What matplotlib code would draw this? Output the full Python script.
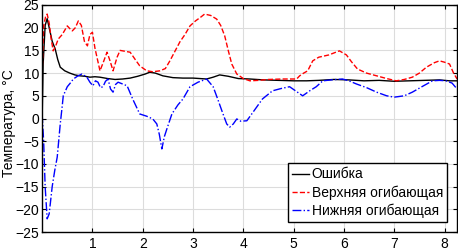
import numpy as np
import matplotlib.pyplot as plt

plt.rcParams['font.family'] = ['Liberation Sans', 'DejaVu Sans']

# values
t_err = [0.0, 0.02, 0.06, 0.1, 0.15, 0.2, 0.26, 0.31, 0.36, 0.45, 0.55, 0.65, 0.75, 0.85,
         0.95, 1.05, 1.15, 1.3, 1.45, 1.6, 1.75, 1.9, 2.05, 2.14, 2.25, 2.4, 2.6, 2.8,
         3.0, 3.27, 3.4, 3.53, 3.7, 3.9, 4.13, 4.4, 4.7, 5.0, 5.26, 5.5, 5.8, 6.1, 6.4,
         6.7, 7.0, 7.3, 7.6, 7.9, 8.1, 8.25]
err = [0.0, 12.0, 20.5, 22.0, 19.5, 17.0, 15.3, 13.0, 11.3, 10.5, 10.0, 9.6, 9.4, 9.3,
       9.1, 9.2, 9.1, 8.8, 8.6, 8.7, 8.9, 9.3, 9.8, 10.2, 10.0, 9.4, 9.0, 8.9,
       8.9, 8.7, 9.1, 9.6, 9.3, 8.8, 8.7, 8.5, 8.4, 8.3, 8.3, 8.4, 8.6, 8.5, 8.3,
       8.4, 8.2, 8.3, 8.4, 8.5, 8.3, 8.3]

t_up = [0.0, 0.03, 0.07, 0.1, 0.14, 0.18, 0.22, 0.27, 0.32, 0.4, 0.5, 0.55, 0.6, 0.66,
        0.72, 0.78, 0.84, 0.9, 0.95, 1.0, 1.05, 1.1, 1.15, 1.22, 1.29, 1.35, 1.41, 1.45,
        1.49, 1.55, 1.65, 1.75, 1.85, 1.94, 2.08, 2.2, 2.34, 2.45, 2.54, 2.64, 2.74,
        2.84, 2.94, 3.05, 3.15, 3.23, 3.35, 3.47, 3.55, 3.63, 3.7, 3.77, 3.87, 4.0,
        4.13, 4.3, 4.5, 4.78, 5.06, 5.12, 5.2, 5.28, 5.38, 5.5, 5.7, 5.91, 6.05, 6.15,
        6.27, 6.45, 6.65, 6.85, 7.04, 7.2, 7.36, 7.5, 7.64, 7.8, 7.9, 8.0, 8.1, 8.18, 8.25]
upper = [10.0, 20.4, 22.5, 23.0, 21.0, 17.5, 14.9, 16.0, 17.5, 18.5, 20.4, 19.8, 19.3, 20.0,
         21.5, 20.5, 17.0, 16.0, 18.5, 19.0, 15.5, 13.0, 10.5, 12.5, 14.6, 12.7, 10.5, 12.0,
         13.5, 15.0, 14.8, 14.6, 13.0, 11.6, 10.5, 10.3, 10.5, 11.0, 12.7, 14.8, 16.9,
         18.5, 20.4, 21.5, 22.3, 23.0, 22.7, 21.9, 20.5, 18.2, 15.0, 12.0, 9.8, 8.8,
         8.3, 8.4, 8.6, 8.7, 8.7, 9.4, 10.0, 10.5, 12.7, 13.5, 14.0, 14.9, 14.0, 12.5,
         10.9, 10.0, 9.4, 8.8, 8.3, 8.6, 9.1, 10.0, 11.3, 12.3, 12.7, 12.4, 12.0, 10.0, 8.7]

t_low = [0.0, 0.03, 0.06, 0.1, 0.14, 0.2, 0.25, 0.3, 0.36, 0.4, 0.42, 0.46, 0.5, 0.56,
         0.62, 0.7, 0.79, 0.89, 0.95, 1.01, 1.06, 1.11, 1.16, 1.21, 1.26, 1.31, 1.36,
         1.41, 1.46, 1.51, 1.6, 1.69, 1.8, 1.94, 2.08, 2.2, 2.28, 2.33, 2.38, 2.43, 2.48,
         2.58, 2.7, 2.8, 2.94, 3.1, 3.27, 3.4, 3.49, 3.58, 3.67, 3.73, 3.8, 3.87, 3.95,
         4.07, 4.2, 4.38, 4.58, 4.75, 4.92, 5.05, 5.18, 5.32, 5.45, 5.58, 5.75, 5.97, 6.1,
         6.25, 6.45, 6.65, 6.85, 7.0, 7.2, 7.36, 7.55, 7.76, 7.9, 8.03, 8.15, 8.25]
lower = [1.0, -5.0, -15.0, -22.1, -21.0, -15.0, -11.5, -8.5, -1.2, 2.8, 5.0, 6.0, 7.0, 7.8,
         8.7, 9.3, 9.8, 9.1, 8.0, 7.2, 8.3, 8.0, 6.8, 7.0, 8.2, 8.7, 6.5,
         5.8, 7.5, 8.0, 7.6, 7.2, 4.3, 1.0, 0.5, -0.1, -1.2, -3.5, -6.7, -4.0, -2.3,
         1.0, 3.0, 4.3, 7.0, 8.0, 8.7, 7.0, 4.3, 1.5, -1.2, -1.9, -1.2, -0.1, -0.6,
         -0.5, 1.5, 4.3, 6.1, 6.6, 7.0, 6.0, 5.0, 6.1, 7.0, 8.3, 8.5, 8.7, 8.3,
         7.6, 6.8, 5.8, 5.0, 4.7, 5.0, 5.8, 7.0, 8.3, 8.4, 8.3, 7.8, 6.5]

fig = plt.figure(figsize=(4.58, 2.5), dpi=100)
ax = fig.add_axes([0.092, 0.072, 0.906, 0.908])

ax.plot(t_err, err, '-', color='black', lw=1.0, label='Ошибка')
ax.plot(t_up, upper, '--', color='red', lw=1.0, label='Верхняя огибающая')
ax.plot(t_low, lower, '-.', color='blue', lw=1.0, label='Нижняя огибающая')

ax.set_xlim(0, 8.25)
ax.set_ylim(-25, 25)
ax.set_xticks(range(1, 9))
ax.set_yticks(range(-25, 26, 5))
ax.grid(True, color='#dcdcdc', lw=0.8)
ax.tick_params(direction='in', top=True, right=True, labelsize=10, length=3)
ax.tick_params(axis='y', pad=2)
ax.set_ylabel('Температура, °C', fontsize=10)
ax.yaxis.set_label_coords(-0.064, 0.48)
for s in ax.spines.values():
    s.set_linewidth(1.0)

leg = ax.legend(loc='lower right', fontsize=10, handlelength=1.2, handletextpad=0.2,
                borderpad=0.3, labelspacing=0.28, fancybox=False, framealpha=1,
                borderaxespad=0.7)
leg.get_frame().set_edgecolor('black')

fig.savefig('out.png', dpi=100)
